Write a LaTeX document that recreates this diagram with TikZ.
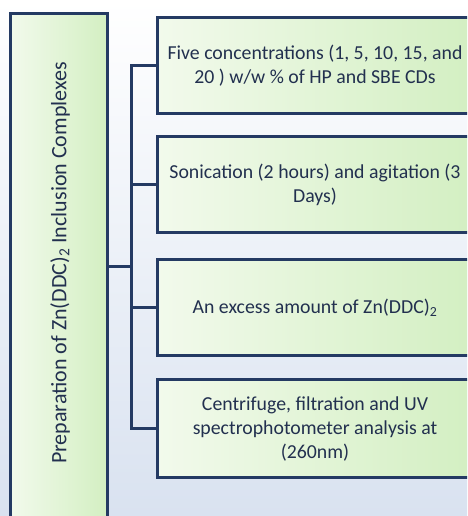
\documentclass[tikz,border=0pt]{standalone}
\usepackage{fontspec}
\setmainfont{Carlito}
\definecolor{navy}{HTML}{243A63}
\definecolor{txt}{HTML}{22304F}
\definecolor{gLight}{HTML}{F2FAEC}
\definecolor{gDark}{HTML}{D3EFC2}
\definecolor{bgBot}{HTML}{D9E2F0}
\tikzset{
  stepbox/.style={draw=navy, line width=3pt, shading=axis, shading angle=45,
    left color=gLight, right color=gDark, minimum width=316pt, minimum height=96pt,
    align=center, text=txt, font=\fontsize{19.8}{24}\selectfont, inner sep=0pt},
  mainbox/.style={draw=navy, line width=3pt, shading=axis, shading angle=45,
    left color=gLight, right color=gDark, minimum width=97pt, minimum height=510pt,
    text=txt, inner sep=0pt},
  link/.style={draw=navy, line width=3pt},
}
\begin{document}
\begin{tikzpicture}[x=1pt,y=-1pt]
\useasboundingbox (0,0) rectangle (467,516);
\clip (0,0) rectangle (467,516);
\shade[top color=white, bottom color=bgBot] (0,0) rectangle (467,516);
\node[mainbox] (main) at (58.5,269) {};
\node[rotate=90, text=txt, font=\fontsize{22}{26}\selectfont] (title) at (60,263) {Preparation of Zn(DDC)\textsubscript{2} Inclusion Complexes};
\node[stepbox] (b1) at (315,66) {Five concentrations (1, 5, 10, 15, and\\20 ) w/w \% of HP and SBE CDs};
\node[stepbox] (b2) at (315,184.5) {Sonication (2 hours) and agitation (3\\Days)};
\node[stepbox] (b3) at (315,307.5) {An excess amount of Zn(DDC)\textsubscript{2}};
\node[stepbox, minimum height=98pt] (b4) at (315,428.5) {Centrifuge, filtration and UV\\spectrophotometer analysis at\\(260nm)};
\coordinate (hub) at (131,266);
\draw[link] (main.east |- hub) -- (hub);
\draw[link] (b1.west) -| (hub);
\draw[link] (b2.west) -| (hub);
\draw[link] (b3.west) -| (hub);
\draw[link] (b4.west) -| (hub);
\end{tikzpicture}
\end{document}
